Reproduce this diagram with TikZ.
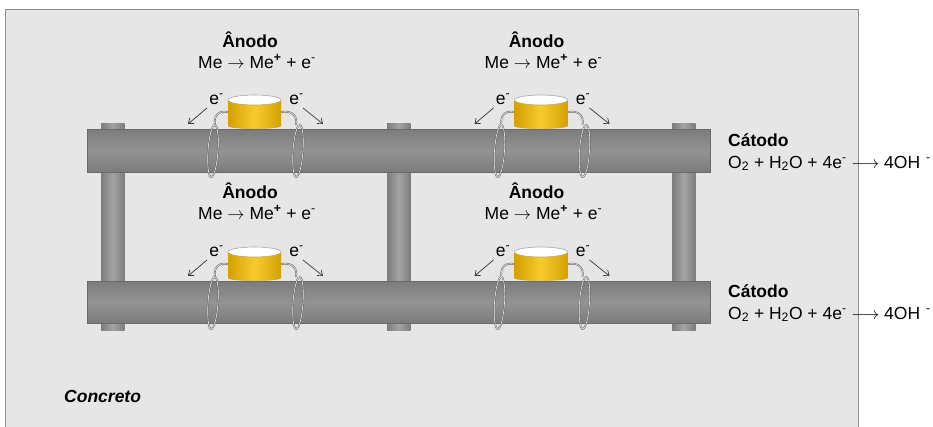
\documentclass[tikz,border=0pt]{standalone}
\usepackage{fontspec}
\setmainfont{Liberation Sans}
\usetikzlibrary{arrows.meta}

\definecolor{concrete}{HTML}{E6E6E6}
\definecolor{concreteedge}{HTML}{8C8C8C}
\definecolor{steeldark}{HTML}{7C7C7C}
\definecolor{steelmid}{HTML}{939393}
\definecolor{steeledge}{HTML}{6A6A6A}
\definecolor{postlight}{HTML}{A4A4A4}
\definecolor{golddark}{HTML}{D5A000}
\definecolor{goldlight}{HTML}{F7CB30}
\definecolor{wiregray}{HTML}{666666}

\tikzset{
  txt/.style={inner sep=0pt, font=\fontsize{17.5}{20}\selectfont},
  titletxt/.style={txt, font=\fontsize{17.5}{20}\selectfont\bfseries},
  wire/.style={draw=wiregray, line width=0.55pt, double=white!85!gray, double distance=0.6pt},
  earrow/.style={draw=black!80, line width=0.7pt, -{Straight Barb[length=4.5pt, width=7pt]}},
  bar/.style={top color=steeldark, bottom color=steeldark, middle color=steelmid},
  post/.style={left color=steeldark, right color=steeldark, middle color=postlight},
  % one sacrificial anode sitting on a bar, with its two wire rings
  anodecell/.pic={
    % wire rings around the bar
    \draw[wire, rotate around={-4:(-41.5,22)}] (-41.5,22) ellipse [x radius=5pt, y radius=26pt];
    \draw[wire, rotate around={-4:(43.5,22)}] (43.5,22) ellipse [x radius=5pt, y radius=26pt];
    % cylinder body
    \shade[left color=golddark, right color=golddark, middle color=goldlight]
      (-26.5,-29) -- (-26.5,-3) arc[start angle=180, end angle=360, x radius=26.5pt, y radius=3pt]
      -- (26.5,-29) -- cycle;
    \node[inner sep=0pt, minimum width=53pt, minimum height=6pt] (-body) at (0,-17) {};
    % cylinder top
    \draw[fill=white, draw=gray!70, line width=0.6pt] (0,-29) ellipse [x radius=26.5pt, y radius=5pt];
    % wires from the anode to the rings
    \coordinate (-lring) at (-39.5,-4);
    \coordinate (-rring) at (41.5,-4);
    \draw[wire] (-body.west) .. controls (-37,-19) and (-41,-12) .. (-lring);
    \draw[wire] (-body.east) .. controls (39,-19) and (43,-12) .. (-rring);
    % electrons leaving the anode
    \node[txt, anchor=base] (-le) at (-38,-25) {e\textsuperscript{-}};
    \node[txt, anchor=base] (-re) at (42,-25) {e\textsuperscript{-}};
    \coordinate (-lstart) at (-47.5,-21);
    \coordinate (-rstart) at (48.5,-21);
    \coordinate (-lend) at (-66.5,-5);
    \coordinate (-rend) at (68.5,-5);
    \draw[earrow] (-lstart) -- (-lend);
    \draw[earrow] (-rstart) -- (-rend);
  }
}

\begin{document}
\begin{tikzpicture}[x=1pt, y=-1pt]
\useasboundingbox (0,0) rectangle (933,426);
\clip (0,0) rectangle (933,426);

% concrete block
\draw[fill=concrete, draw=concreteedge, line width=0.8pt] (5,9) rectangle (858,440);

% vertical bars
\foreach \px in {101,387,672}
  \shade[post] (\px,123) rectangle ++(23.5,207);

% horizontal bars
\shade[bar] (87,129) rectangle (710,172);
\draw[steeledge, line width=0.5pt] (87,129) rectangle (710,172);
\shade[bar] (87,281) rectangle (710,323);
\draw[steeledge, line width=0.5pt] (87,281) rectangle (710,323);

% anodes
\pic (a1) at (254.5,129) {anodecell};
\pic (a2) at (541,129) {anodecell};
\pic (a3) at (254.5,281) {anodecell};
\pic (a4) at (541,281) {anodecell};

% anode reactions
\foreach \nm/\ax/\ay in {1/250/47, 2/536.5/47, 3/250/198, 4/536.5/198} {
  \node[titletxt, anchor=base] (an\nm) at (\ax,\ay) {Ânodo};
  \node[txt, anchor=base] (ar\nm) at ([xshift=7pt, yshift=-21pt]an\nm.base)
    {Me $\rightarrow$ Me\textsuperscript{\textbf{+}} + e\textsuperscript{-}};
}

% cathode reactions
\foreach \nm/\cy in {1/146, 2/297} {
  \node[titletxt, anchor=base west] (cn\nm) at (728,\cy) {Cátodo};
  \node[txt, anchor=base west] (cr\nm) at ([yshift=-22pt]cn\nm.base west)
    {O\textsubscript{2} + H\textsubscript{2}O + 4e\textsuperscript{-} $\longrightarrow$ 4OH\,\,\textsuperscript{-}};
}

% material label
\node[txt, anchor=base west, font=\fontsize{17.5}{20}\selectfont\bfseries\itshape] (mat) at (64,402) {Concreto};
\end{tikzpicture}
\end{document}
